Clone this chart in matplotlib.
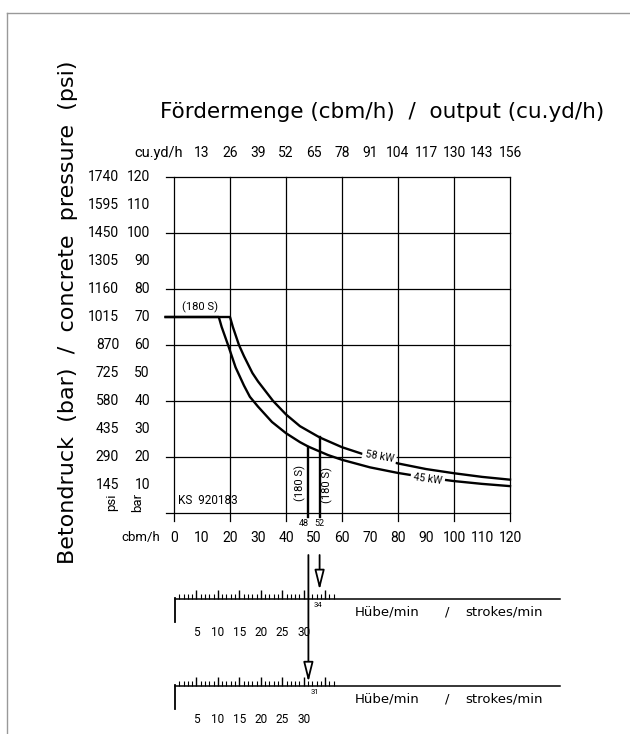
import matplotlib
matplotlib.use('Agg')
from matplotlib import pyplot as plt
from matplotlib.lines import Line2D

plt.rcParams['font.family'] = ['Roboto', 'DejaVu Sans']

# Kennlinien: Fördermenge (cbm/h) -> Betondruck (bar)
q_45kw = [-3, 16, 17, 19.3, 22, 25, 27.1, 30, 35, 40, 45, 48, 55, 60, 70, 80, 90, 100, 110, 120]
p_45kw = [70, 70, 66.5, 60, 52, 45.5, 41.5, 38, 32.5, 28.5, 25.3, 23.7, 20.7, 19, 16.3, 14.3, 12.7, 11.4, 10.4, 9.6]
q_58kw = [-3, 20, 21, 23.2, 25, 28, 30, 35.4, 40, 45, 52, 60, 67, 70, 80, 90, 100, 110, 120]
p_58kw = [70, 70, 66.5, 60, 56, 50, 47, 40, 35.2, 31, 27, 23.5, 21.2, 20.2, 17.7, 15.7, 14.2, 12.9, 11.9]

# Achsen
cbm_ticks = [0, 10, 20, 30, 40, 50, 60, 70, 80, 90, 100, 110, 120]
cuyd_ticks = [10, 20, 30, 40, 50, 60, 70, 80, 90, 100, 110, 120]
cuyd_labels = ['13', '26', '39', '52', '65', '78', '91', '104', '117', '130', '143', '156']
bar_ticks = [10, 20, 30, 40, 50, 60, 70, 80, 90, 100, 110, 120]
psi_labels = ['145', '290', '435', '580', '725', '870', '1015', '1160', '1305', '1450', '1595', '1740']
grid_steps = [0, 20, 40, 60, 80, 100, 120]
hub_ticks = [5, 10, 15, 20, 25, 30, 35]
hub_labels = ['5', '10', '15', '20', '25', '30', '']
hub_minor = list(range(1, 38))

# Arbeitspunkte (180 S)
q_punkt = [48, 52]
p_punkt = [23.7, 27.0]
hub_punkt = ['31', '34']

W, H = 630, 734
fig = plt.figure(figsize=(6.3, 7.34), dpi=100)
wide = ['DejaVu Sans']


def fx(px):
    return px / W


def fy(py):
    return 1 - py / H


# Rahmen
fig.add_artist(Line2D([fx(7), 1], [fy(13), fy(13)], color='0.6', lw=1))
fig.add_artist(Line2D([fx(7), fx(7)], [fy(13), 0], color='0.6', lw=1))

ax = fig.add_axes([fx(174), fy(513), (510 - 174) / W, (513 - 177) / H])
ax.set_xlim(0, 120)
ax.set_ylim(0, 120)
ax.set_xticks([])
ax.set_yticks([])
for s in ax.spines.values():
    s.set_visible(False)
ax.patch.set_alpha(0)

for v in grid_steps:
    ax.plot([v, v], [-3, 120], color='k', lw=0.9, clip_on=False)
    ax.plot([-3, 120], [v, v], color='k', lw=0.9, clip_on=False)

ax.plot(q_45kw, p_45kw, color='k', lw=1.7, clip_on=False)
ax.plot(q_58kw, p_58kw, color='k', lw=1.7, clip_on=False)
ax.text(73.3, 20.0, '58 kW', rotation=-10, ha='center', va='center', fontsize=7.5,
        bbox=dict(fc='white', ec='none', pad=2))
ax.text(90.6, 12.1, '45 kW', rotation=-8, ha='center', va='center', fontsize=7.5,
        bbox=dict(fc='white', ec='none', pad=2))

# senkrechte Linien und Pfeile zu den Hub-Skalen
pfeil_ende = [-60.4, -27.5]
for q, p, ende in zip(q_punkt, p_punkt, pfeil_ende):
    ax.plot([q, q], [p, -1.4], color='k', lw=1.7, clip_on=False)
    ax.annotate('', xy=(q, ende), xytext=(q, -15), annotation_clip=False,
                arrowprops=dict(arrowstyle='-|>,head_length=1.2,head_width=0.3',
                                fc='white', ec='k', lw=1.3, shrinkA=0, shrinkB=0,
                                mutation_scale=10))
ax.text(46.3, -3.6, '48', ha='center', va='center', fontsize=6.5, clip_on=False)
ax.text(52, -3.6, '52', ha='center', va='center', fontsize=6.5, clip_on=False)
ax.text(45, 10.7, '(180 S)', rotation=90, ha='center', va='center', fontsize=8)
ax.text(54.8, 10.0, '(180 S)', rotation=90, ha='center', va='center', fontsize=8)
ax.text(9.3, 73.5, '(180 S)', ha='center', va='center', fontsize=8)
ax.text(1.4, 4.6, 'KS  920183', ha='left', va='center', fontsize=8.5)

# Beschriftung der Achsen
for b, ps in zip(bar_ticks, psi_labels):
    ax.text(-8.6, b, str(b), ha='right', va='center', fontsize=10, clip_on=False)
    ax.text(-19.6, b, ps, ha='right', va='center', fontsize=10, clip_on=False)
ax.text(-22.1, 3.9, 'psi', rotation=90, ha='center', va='center', fontsize=9.5)
ax.text(-12.9, 3.9, 'bar', rotation=90, ha='center', va='center', fontsize=9.5)
for c in cbm_ticks:
    ax.text(c, -8.9, str(c), ha='center', va='center', fontsize=10, clip_on=False)
ax.text(-5, -8.9, 'cbm/h', ha='right', va='center', fontsize=9.5, clip_on=False)
for c, lab in zip(cuyd_ticks, cuyd_labels):
    ax.text(c, 128.6, lab, ha='center', va='center', fontsize=10, clip_on=False)
ax.text(3.2, 128.6, 'cu.yd/h', ha='right', va='center', fontsize=10.5, clip_on=False)

fig.text(fx(382), fy(112), 'Fördermenge (cbm/h)  /  output (cu.yd/h)',
         ha='center', va='center', fontsize=15.5, family=wide)
fig.text(fx(68), fy(312), 'Betondruck  (bar)  /  concrete  pressure  (psi)',
         ha='center', va='center', rotation=90, fontsize=16, family=wide)

# Hub-Skalen
for basis, punkt_lab in zip([599, 686], hub_punkt[::-1]):
    axs = fig.add_axes([fx(175), fy(basis + 15), 385 / W, 15 / H])
    axs.set_xlim(0, 385 / 4.29)
    axs.set_ylim(0, 1)
    axs.patch.set_alpha(0)
    for k in ['left', 'right', 'bottom']:
        axs.spines[k].set_visible(False)
    axs.spines['top'].set_linewidth(1.1)
    axs.set_yticks([])
    axs.set_xticks(hub_ticks)
    axs.set_xticklabels(hub_labels)
    axs.set_xticks(hub_minor, minor=True)
    axs.tick_params(which='both', bottom=False, top=True, labelbottom=True,
                    labeltop=False, direction='out')
    axs.tick_params(which='major', length=6.5, width=1.0, labelsize=8.5, pad=2)
    axs.tick_params(which='minor', length=3.5, width=0.8)
    axs.plot([0, 0], [1.1, -0.5], color='k', lw=1.3, clip_on=False)
    axs.text(33.4 if punkt_lab == '34' else 32.6, 0.6, punkt_lab, ha='center',
             va='center', fontsize=5.5)
    axs.text(42, 0.13, 'Hübe/min', ha='left', va='center', fontsize=9.5, family=wide)
    axs.text((447 - 175) / 4.29, 0.13, '/', ha='center', va='center', fontsize=9.5,
             family=wide)
    axs.text((465 - 175) / 4.29, 0.13, 'strokes/min', ha='left', va='center',
             fontsize=9.5, family=wide)

fig.savefig('out.png', dpi=100)
